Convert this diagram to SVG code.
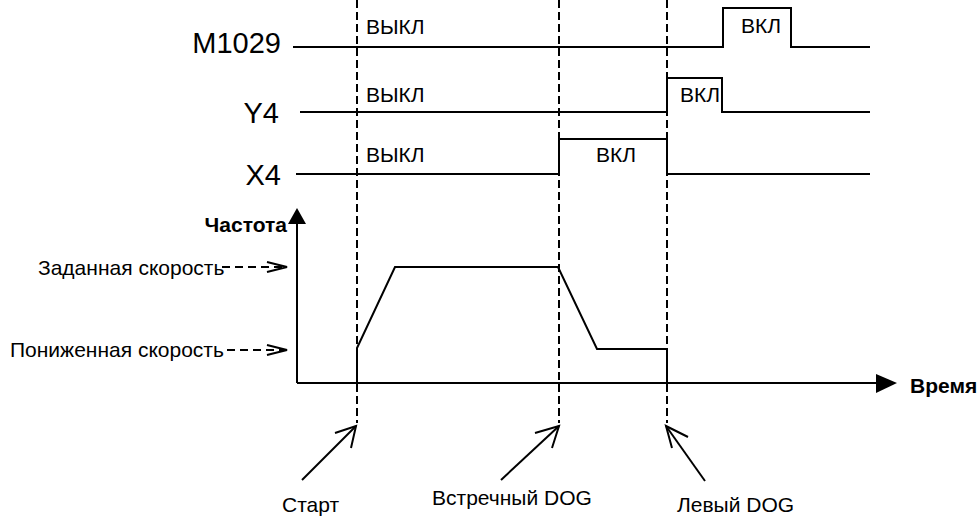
<svg xmlns="http://www.w3.org/2000/svg" width="980" height="516" viewBox="0 0 980 516">
<defs>
<style>
text{font-family:"Liberation Sans",Arial,sans-serif;fill:#000}
.sig{font-size:29px}
.lbl{font-size:21px}
.b{font-size:21px;font-weight:bold}
.w{fill:none;stroke:#000;stroke-width:2}
.dash{fill:none;stroke:#000;stroke-width:2;stroke-dasharray:8 4}
.sdash{fill:none;stroke:#000;stroke-width:2;stroke-dasharray:8 5}
.arr{fill:none;stroke:#000;stroke-width:2}
</style>
</defs>
<rect width="980" height="516" fill="#fff"/>
<g id="signal-M1029">
<text class="sig" x="281" y="53" text-anchor="end">M1029</text>
<polyline class="w" points="293,47 723,47 723,8 791,8 791,47 870,47"/>
<text class="lbl" x="366" y="34">ВЫКЛ</text>
<text class="lbl" x="741" y="33">ВКЛ</text>
</g>
<g id="signal-Y4">
<text class="sig" x="279" y="123" text-anchor="end">Y4</text>
<polyline class="w" points="300,112 667,112 667,78 722,78 722,112 870,112"/>
<text class="lbl" x="366" y="102">ВЫКЛ</text>
<text class="lbl" x="680" y="102">ВКЛ</text>
</g>
<g id="signal-X4">
<text class="sig" x="281" y="185" text-anchor="end">X4</text>
<polyline class="w" points="296,174 559,174 559,139 667,139 667,174 870,174"/>
<text class="lbl" x="366" y="162">ВЫКЛ</text>
<text class="lbl" x="596" y="162">ВКЛ</text>
</g>
<g id="chart">
<line class="w" x1="297" y1="383" x2="297" y2="222"/>
<polygon points="297,208 288,224 306,224"/>
<line class="w" x1="297" y1="383" x2="878" y2="383"/>
<polygon points="897,383 876,374 876,393"/>
<text class="b" x="287" y="232" text-anchor="end">Частота</text>
<text class="b" x="910" y="393">Время</text>
<polyline class="w" points="357,383 357,348 395,267 558,267 597,349 667,349 667,383"/>
<text class="lbl" x="38" y="275">Заданная скорость</text>
<line class="sdash" x1="222" y1="267" x2="285" y2="267"/>
<polyline class="arr" points="267,262 287,267 267,272"/>
<text class="lbl" x="10" y="357">Пониженная скорость</text>
<line class="sdash" x1="227" y1="350" x2="285" y2="350"/>
<polyline class="arr" points="267,345 287,350 267,355"/>
</g>
<g id="connectors">
<line class="dash" x1="357" y1="0" x2="357" y2="423"/>
<line class="dash" x1="559" y1="0" x2="559" y2="423"/>
<line class="dash" x1="667" y1="0" x2="667" y2="423"/>
<line class="arr" x1="302" y1="480" x2="356" y2="426"/>
<polyline class="arr" points="335,433 356,426 351,448"/>
<line class="arr" x1="501" y1="480" x2="559" y2="426"/>
<polyline class="arr" points="535,433 559,426 552,448"/>
<line class="arr" x1="705" y1="481" x2="666" y2="426"/>
<polyline class="arr" points="688,437 666,426 672,448"/>
</g>
<g id="labels">
<text class="lbl" x="282" y="512">Старт</text>
<text class="lbl" x="432" y="505">Встречный DOG</text>
<text class="lbl" x="677" y="512">Левый DOG</text>
</g>
</svg>
